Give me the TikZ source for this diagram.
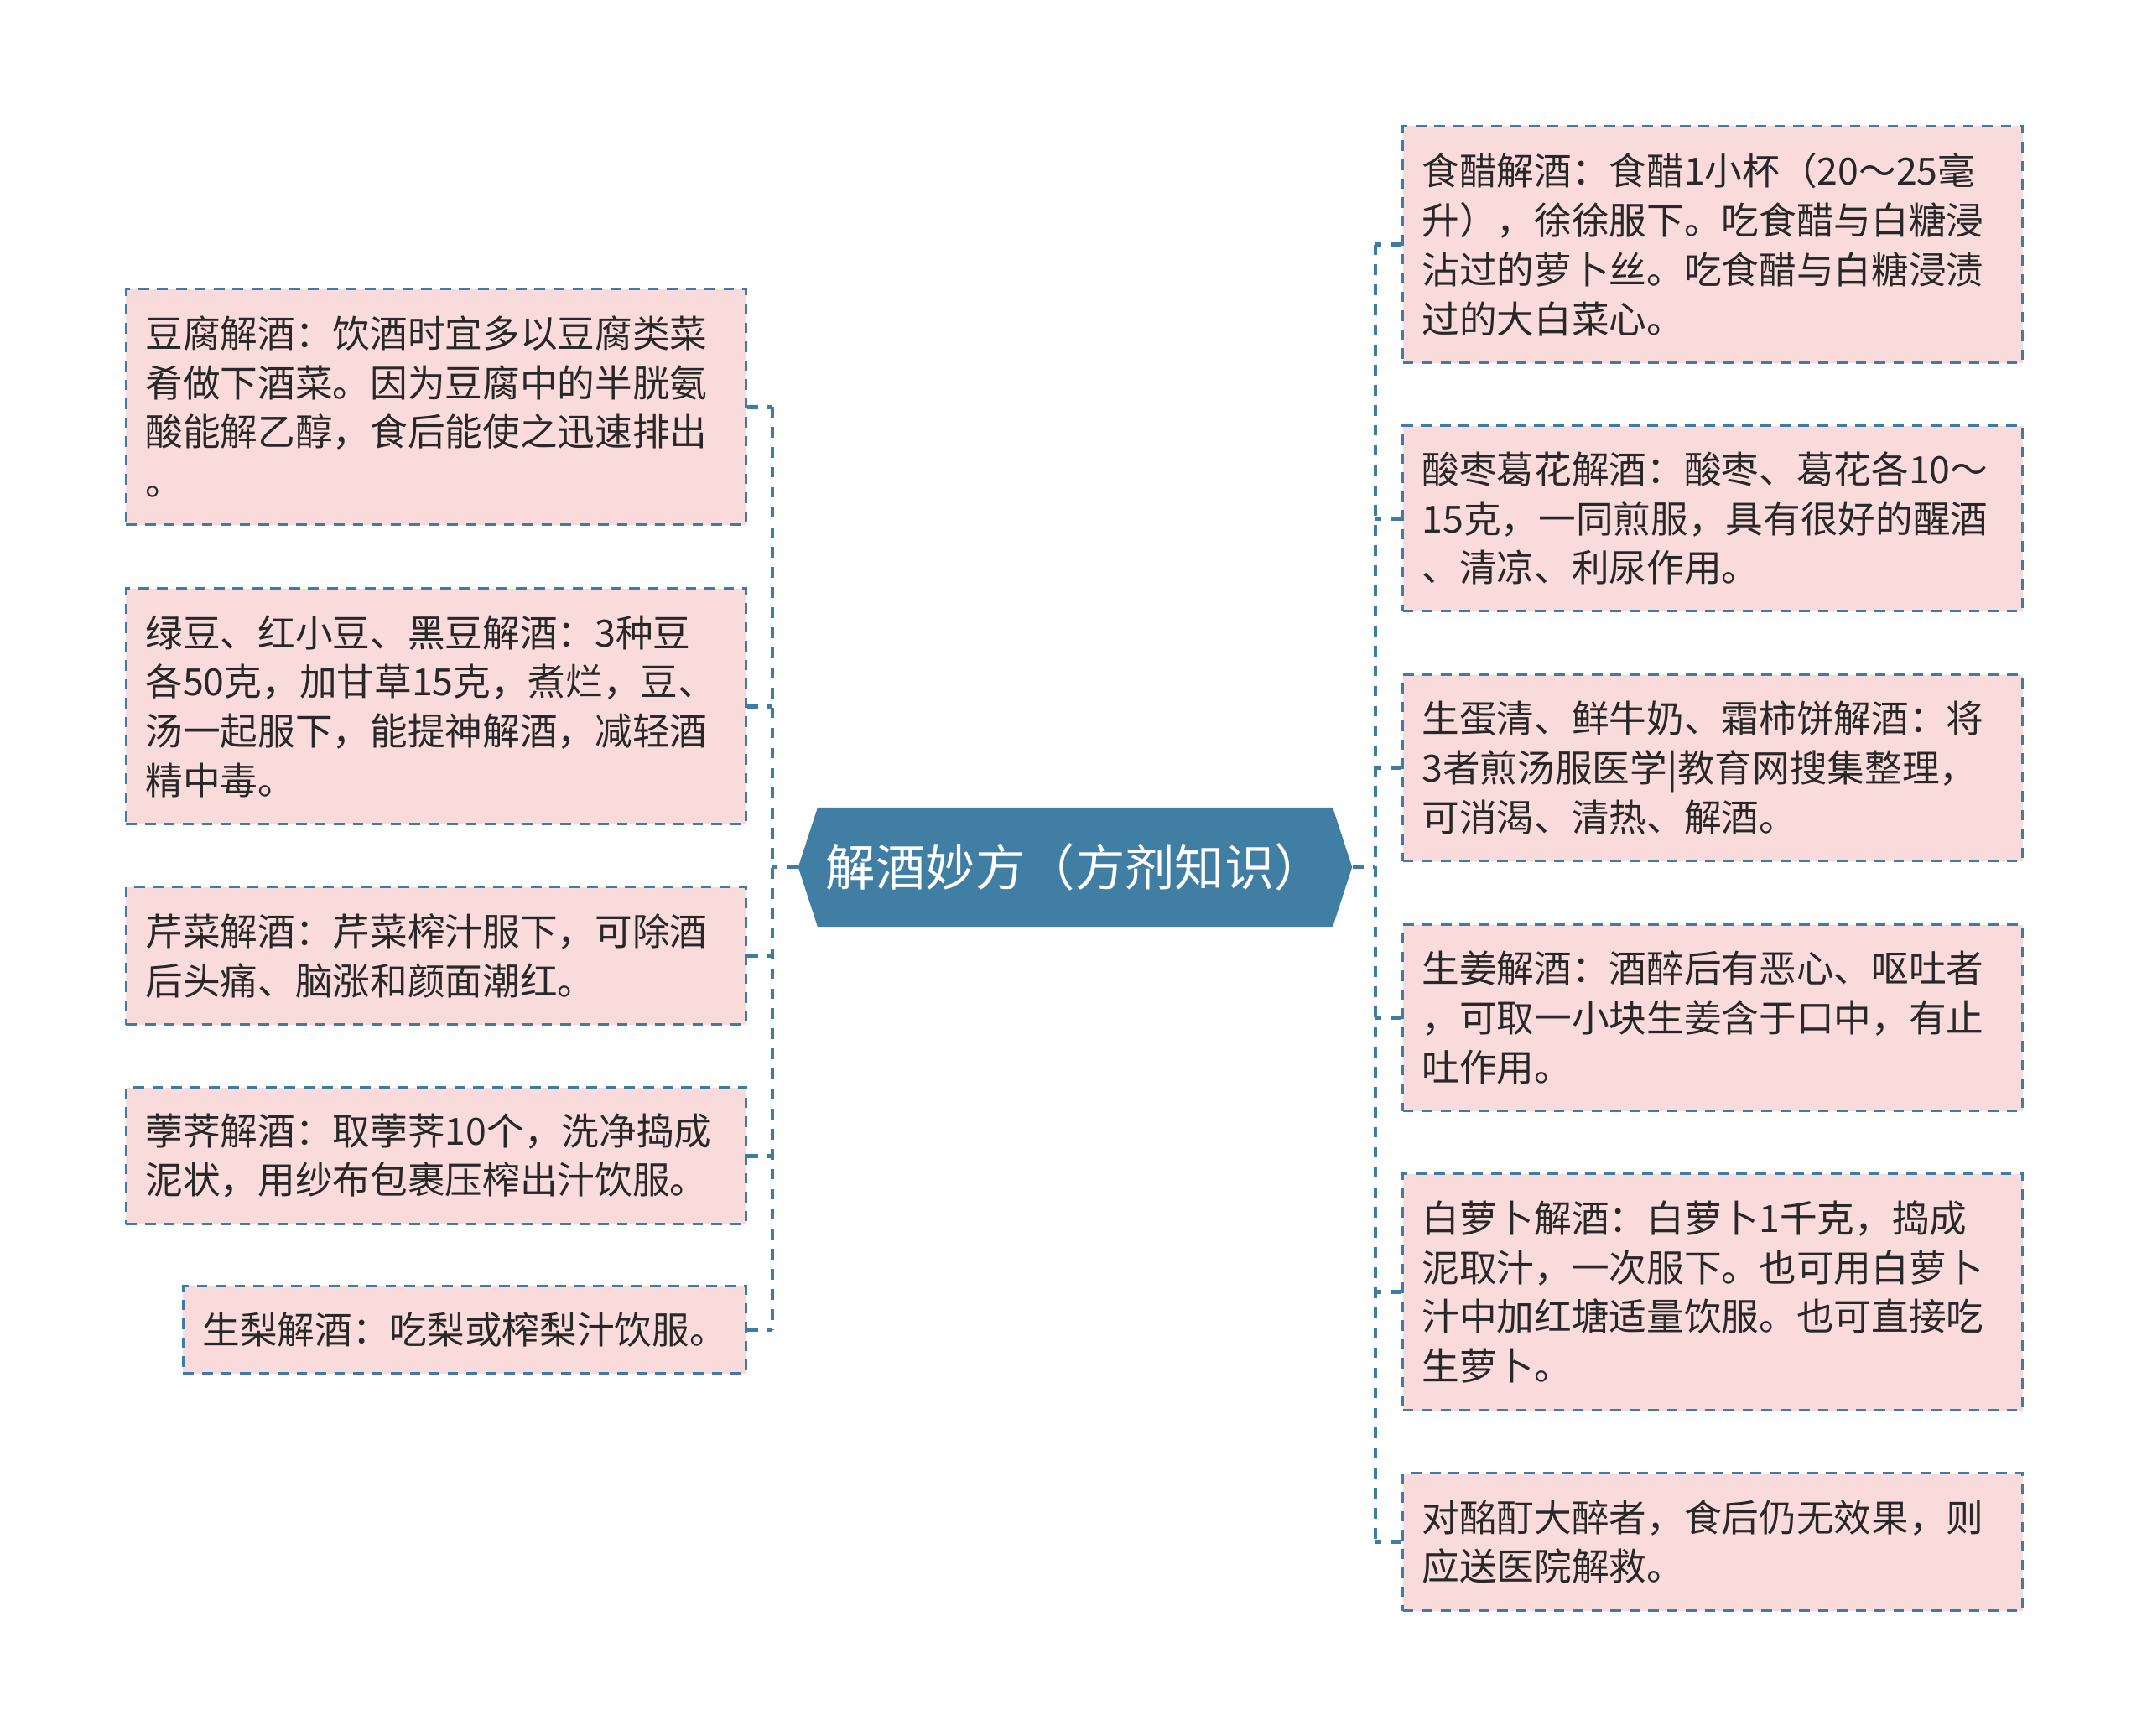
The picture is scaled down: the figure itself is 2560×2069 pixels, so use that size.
\documentclass[tikz,border=0pt]{standalone}
\usepackage{fontspec}
\newfontfamily\cjk{Noto Sans CJK SC}
\usetikzlibrary{positioning,shapes.symbols}
\definecolor{boxpink}{RGB}{250,219,219}
\definecolor{edgeblue}{RGB}{62,124,165}
\definecolor{rootblue}{RGB}{64,126,164}
\definecolor{textgray}{RGB}{40,40,40}

\tikzset{
  tipbox/.style={draw=edgeblue,fill=boxpink,line width=0.85pt,dash pattern=on 3.6pt off 2.8pt,
    anchor=north west,align=left,text width=6.93cm,inner xsep=0.23cm,inner ysep=0pt,
    font=\cjk\fontsize{12.7}{16.7}\selectfont,text=textgray},
  linkline/.style={draw=edgeblue,line width=1.4pt,dash pattern=on 3.6pt off 3.2pt}
}

\begin{document}
\begin{tikzpicture}[x=0.01cm,y=-0.01cm]
  \useasboundingbox (0,0) rectangle (2560,2069);

  \node[signal,signal to=west and east,signal pointer angle=144,fill=rootblue,minimum width=6.6cm,minimum height=1.42cm,inner sep=0pt,text=white,font=\cjk\fontsize{16.9}{20}\selectfont] (root) at (1282,1034) {解酒妙方（方剂知识）};

  % left side
  \node[tipbox,minimum height=2.81cm] (l1) at (149,343) {豆腐解酒：饮酒时宜多以豆腐类菜\\肴做下酒菜。因为豆腐中的半胱氨\\酸能解乙醇，食后能使之迅速排出\\。};
  \node[tipbox,minimum height=2.81cm] (l2) at (149,700) {绿豆、红小豆、黑豆解酒：3种豆\\各50克，加甘草15克，煮烂，豆、\\汤一起服下，能提神解酒，减轻酒\\精中毒。};
  \node[tipbox,minimum height=1.64cm] (l3) at (149,1056) {芹菜解酒：芹菜榨汁服下，可除酒\\后头痛、脑涨和颜面潮红。};
  \node[tipbox,minimum height=1.63cm] (l4) at (149,1295) {荸荠解酒：取荸荠10个，洗净捣成\\泥状，用纱布包裹压榨出汁饮服。};
  \node[tipbox,minimum height=1.04cm,text width=6.25cm] (l5) at (217,1532) {生梨解酒：吃梨或榨梨汁饮服。};

  % right side
  \node[tipbox,minimum height=2.82cm] (r1) at (1671,149) {食醋解酒：食醋1小杯（20～25毫\\升），徐徐服下。吃食醋与白糖浸\\沾过的萝卜丝。吃食醋与白糖浸渍\\过的大白菜心。};
  \node[tipbox,minimum height=2.21cm] (r2) at (1671,506) {酸枣葛花解酒：酸枣、葛花各10～\\15克，一同煎服，具有很好的醒酒\\、清凉、利尿作用。};
  \node[tipbox,minimum height=2.22cm] (r3) at (1671,803) {生蛋清、鲜牛奶、霜柿饼解酒：将\\3者煎汤服医学|教育网搜集整理，\\可消渴、清热、解酒。};
  \node[tipbox,minimum height=2.22cm] (r4) at (1671,1101) {生姜解酒：酒醉后有恶心、呕吐者\\，可取一小块生姜含于口中，有止\\吐作用。};
  \node[tipbox,minimum height=2.82cm] (r5) at (1671,1398) {白萝卜解酒：白萝卜1千克，捣成\\泥取汁，一次服下。也可用白萝卜\\汁中加红塘适量饮服。也可直接吃\\生萝卜。};
  \node[tipbox,minimum height=1.64cm] (r6) at (1671,1755) {对酩酊大醉者，食后仍无效果，则\\应送医院解救。};

  % connectors
  \coordinate (lbus) at (921,1034);
  \coordinate (rbus) at (1640,1034);
  \draw[linkline] (root.west) -- (lbus);
  \draw[linkline] (root.east) -- (rbus);
  \draw[linkline] (l1.east -| lbus) -- (l5.east -| lbus);
  \draw[linkline] (r1.west -| rbus) -- (r6.west -| rbus);
  \foreach \n in {l1,l2,l3,l4,l5}
    \draw[linkline] (\n.east) -- (\n.east -| lbus);
  \foreach \n in {r1,r2,r3,r4,r5,r6}
    \draw[linkline] (\n.west) -- (\n.west -| rbus);
\end{tikzpicture}
\end{document}
